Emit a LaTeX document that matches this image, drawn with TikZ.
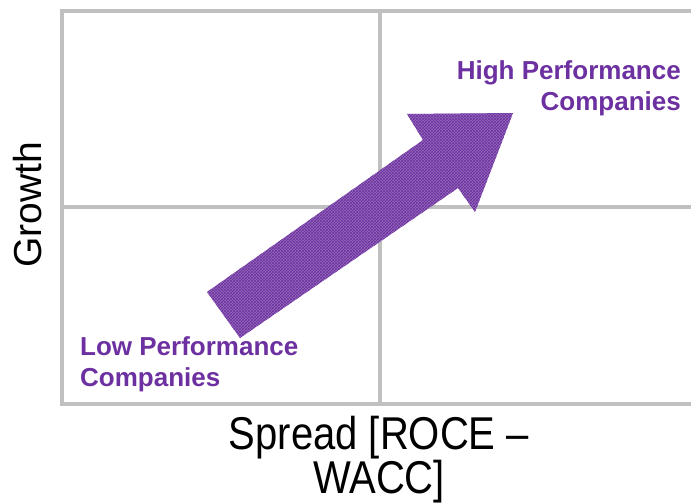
\documentclass[tikz,border=0pt]{standalone}
\usepackage{fontspec}
\setmainfont{Liberation Sans}
\usetikzlibrary{patterns}
\definecolor{perfpurple}{RGB}{108,48,160}
\definecolor{gridgray}{RGB}{192,192,192}

\begin{document}
\begin{tikzpicture}[x=1pt,y=-1pt,
                    grid line/.style={draw=gridgray,line width=3.5pt},
                    axis label/.style={font=\fontsize{39}{35}\selectfont,align=center,inner sep=0pt},
                    perf label/.style={font=\fontsize{26}{31}\selectfont\bfseries,text=perfpurple,inner sep=0pt},
                    trend arrow/.style={preaction={fill=perfpurple!72},pattern=crosshatch,pattern color=perfpurple}]

  \useasboundingbox (0,0) rectangle (691,503);

  % quadrants
  \draw[grid line] (700,11) -- (62,11) -- (62,404) -- (700,404);
  \draw[grid line] (380,11) -- (380,404);
  \draw[grid line] (62,207) -- (700,207);

  % arrow
  \path[trend arrow] (207,292) -- (423,140) -- (407,114) -- (513,113)
        -- (475,212) -- (458,188) -- (240,338) -- cycle;

  \node[perf label,align=left,anchor=north west] (low) at (80,336) {Low Performance\\Companies};
  \node[perf label,align=right,anchor=north east] (high) at (681,60) {High Performance\\Companies};

  \node[axis label,rotate=90] (growth) at (28,205) {Growth};
  \begin{scope}[shift={(379,460)},yscale=1.15]
    \node[axis label,transform shape,font=\fontsize{40}{30}\selectfont] (spread) at (0,0) {Spread [ROCE –\\WACC]};
  \end{scope}
\end{tikzpicture}
\end{document}
